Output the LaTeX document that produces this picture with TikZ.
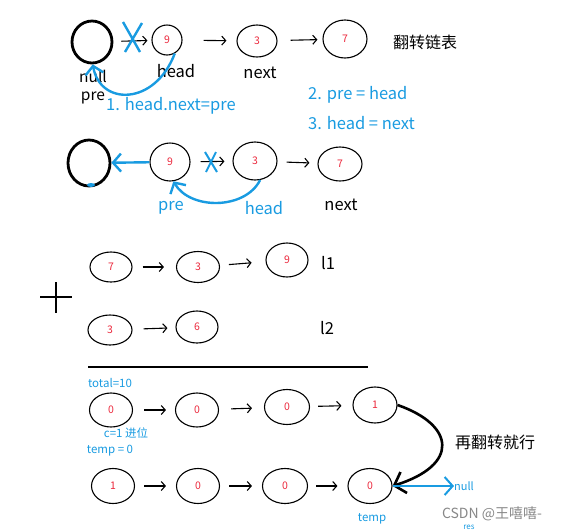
\documentclass[tikz,border=0pt]{standalone}
\usepackage{fontspec}
\setmainfont{Noto Sans CJK SC}
\usetikzlibrary{shapes.geometric,arrows.meta}
\definecolor{myblue}{RGB}{25,155,225}
\definecolor{myred}{RGB}{235,40,60}
\definecolor{wmgray}{RGB}{135,135,135}
\tikzset{
 nd/.style={ellipse, draw=black, line width=1.1pt, inner sep=0pt, text=myred, font=\fontsize{10.5}{10.5}\selectfont},
 bignd/.style={ellipse, draw=black, line width=2.8pt, inner sep=0pt},
 arr/.style={-{Straight Barb[length=4pt,width=9pt]}, line width=1.1pt, black, shorten <=10pt, shorten >=10pt},
 barr/.style={-{Straight Barb[length=8pt,width=18pt]}, line width=2.4pt, myblue},
 karr/.style={-{Straight Barb[length=10pt,width=22pt]}, line width=2.6pt, black},
 lbl/.style={font=\fontsize{16.5}{16.5}\selectfont, inner sep=0pt},
 tlbl/.style={font=\fontsize{15.5}{15.5}\selectfont, inner sep=0pt, text height=9pt, text depth=2pt},
 blbl/.style={lbl, text=myblue},
 slbl/.style={font=\fontsize{11.5}{11.5}\selectfont, inner sep=0pt, text=myblue},
 cn/.style={font=\fontsize{16}{16}\selectfont, inner sep=0pt},
 xmark/.style={myblue, line width=2.4pt}
}
\begin{document}
\begin{tikzpicture}[x=1pt,y=-1pt]
\useasboundingbox (0,0) rectangle (563,531);
% ---------- row 1 ----------
\node[bignd, minimum width=40pt, minimum height=42pt] (n0) at (92,42) {};
\node[nd, minimum width=30pt, minimum height=30pt] (a1) at (167,40) {9};
\node[nd, minimum width=40pt, minimum height=32pt] (a2) at (257,41) {3};
\node[nd, minimum width=44pt, minimum height=38pt] (a3) at (345,39) {7};
\draw[arr, shorten <=8pt, shorten >=4pt] (n0) -- (a1);
\draw[arr, shorten <=21pt, shorten >=10pt] (a1) -- (a2);
\draw[arr, shorten <=13pt, shorten >=5pt] (a2) -- (a3);
\draw[xmark] (123,22) -- (140,52) (142,23) -- (125,52);
\node[cn] (t1) at (425,42) {翻转链表};
\node[tlbl] (lnull) at (93,79) {null};
\node[lbl] (lhead) at (176,71) {head};
\node[lbl] (lnext) at (260,73) {next};
\node[tlbl] (lpre) at (93,97) {pre};
\node[blbl, anchor=west] (s1) at (106,106) {1. head.next=pre};
\node[blbl, anchor=west] (s2) at (308,95) {2. pre = head};
\node[blbl, anchor=west] (s3) at (308,123) {3. head = next};
\draw[barr] (a1.-60) .. controls (155,106) and (100,106) .. (n0.-88);
% ---------- row 2 ----------
\node[bignd, minimum width=42pt, minimum height=46pt] (m0) at (89,163) {};
\fill[myblue] (91,185) ellipse (4pt and 2pt);
\node[nd, minimum width=40pt, minimum height=38pt] (b1) at (170,162) {9};
\node[nd, minimum width=44pt, minimum height=38pt] (b2) at (255,161) {3};
\node[nd, minimum width=44pt, minimum height=34pt] (b3) at (340,164) {7};
\draw[barr] (b1) -- (m0);
\draw[arr, shorten <=10pt, shorten >=8pt] (b1) -- (b2);
\draw[arr, shorten <=9pt, shorten >=8pt] (b2) -- (b3);
\draw[myblue, line width=2pt] (205,152) -- (217,172) (216,152) -- (206,172);
\draw[barr] (b2.-75) .. controls (245,210) and (190,210) .. (b1.-80);
\node[blbl] (lpre2) at (171,208) {pre};
\node[blbl] (lhead2) at (264,208) {head};
\node[lbl] (lnext2) at (341,205) {next};
% ---------- l1 / l2 ----------
\draw[line width=1.2pt] (40,297) -- (72,297) (56,282) -- (56,313);
\node[nd, minimum width=42pt, minimum height=30pt] (c1) at (111,267) {7};
\node[nd, minimum width=43pt, minimum height=31pt] (c2) at (198,267) {3};
\node[nd, minimum width=42pt, minimum height=34pt] (c3) at (287,260) {9};
\draw[arr, shorten <=10pt, shorten >=12pt] (c1) -- (c2);
\draw[arr, shorten <=9pt, shorten >=14pt] (c2) -- (c3);
\node[lbl] (ll1) at (328,263) {l1};
\node[nd, minimum width=44pt, minimum height=30pt] (d1) at (110,330) {3};
\node[nd, minimum width=42pt, minimum height=32pt] (d2) at (197,327) {6};
\draw[arr, shorten <=11pt, shorten >=8pt] (d1) -- (d2);
\node[lbl] (ll2) at (327,328) {l2};
\draw[line width=1.6pt] (88,367) -- (368,367);
% ---------- result ----------
\node[slbl] (tot) at (110,383) {total=10};
\node[nd, minimum width=43pt, minimum height=34pt] (e1) at (111,410) {0};
\node[nd, minimum width=43pt, minimum height=34pt] (e2) at (197,410) {0};
\node[nd, minimum width=45pt, minimum height=35pt] (e3) at (287,407) {0};
\node[nd, minimum width=44pt, minimum height=36pt] (e4) at (375,405) {1};
\draw[arr, shorten <=11pt, shorten >=9pt] (e1) -- (e2);
\draw[arr, shorten <=12pt, shorten >=12pt] (e2) -- (e3);
\draw[arr, shorten <=8pt, shorten >=11pt] (e3) -- (e4);
\node[slbl] (carry) at (126,433) {c=1 进位};
\node[slbl] (tmp0) at (110,451) {temp = 0};
% ---------- reversed ----------
\node[nd, minimum width=43pt, minimum height=35pt] (f1) at (113,486) {1};
\node[nd, minimum width=43pt, minimum height=35pt] (f2) at (198,486) {0};
\node[nd, minimum width=45pt, minimum height=35pt] (f3) at (285,486) {0};
\node[nd, minimum width=44pt, minimum height=35pt] (f4) at (370,486) {0};
\draw[arr, shorten <=9pt, shorten >=10pt] (f1) -- (f2);
\draw[arr, shorten <=9pt, shorten >=10pt] (f2) -- (f3);
\draw[arr, shorten <=8pt, shorten >=10pt] (f3) -- (f4);
\draw[karr] (e4.east) .. controls (455,425) and (460,465) .. (f4.east);
\node[cn] (again) at (495,442) {再翻转就行};
\node[font=\fontsize{11}{11}\selectfont, text=myblue, inner sep=0pt] (nul2) at (464,486) {null};
\draw[barr, line width=2pt] (f4.east) -- (nul2.west);
\node[font=\fontsize{11.5}{11.5}\selectfont, text=myblue, inner sep=0pt] (tmp) at (372,519) {temp};
\node[font=\fontsize{8}{8}\selectfont, text=myblue, inner sep=0pt] (res) at (469,527) {res};
\node[font=\fontsize{14}{14}\selectfont, text=wmgray, inner sep=0pt] (wm) at (492,514) {CSDN @王嘻嘻-};
\end{tikzpicture}
\end{document}
